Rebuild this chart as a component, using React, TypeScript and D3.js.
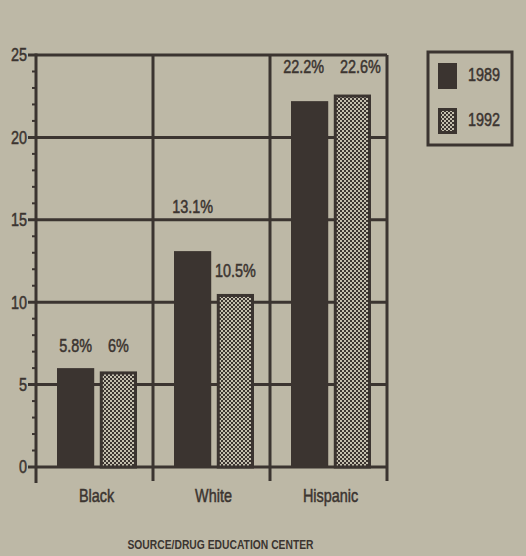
import React from 'react';
import * as d3 from 'd3';

// chart data
const categories = ['Black', 'White', 'Hispanic'];
const series = ['1989', '1992'];
const values1989 = [6.0, 13.1, 22.2];
const values1992 = [5.8, 10.5, 22.6];
const labels1989 = ['5.8%', '13.1%', '22.2%'];
const labels1992 = ['6%', '10.5%', '22.6%'];
// where the value labels sit, in data units
const labelAt1989 = [7.0, 15.4, 23.9];
const labelAt1992 = [7.0, 11.5, 23.9];
const yTicks = [0, 5, 10, 15, 20, 25];
const sourceNote = 'SOURCE/DRUG EDUCATION CENTER';

const W = 526;
const H = 556;
const BG = '#bdb8a6';
const INK = '#3b3430';
const FONT = '"Liberation Sans", Arial, sans-serif';

// condensed text: the scan uses a narrow grotesque, so squeeze Liberation Sans
function Txt({ x, y, anchor = 'start', size = 18, bold = false, squeeze = 0.8, dy, children }:
  { x: number; y: number; anchor?: string; size?: number; bold?: boolean; squeeze?: number; dy?: string; children: React.ReactNode }) {
  return (
    <text transform={`translate(${x},${y}) scale(${squeeze},1)`} textAnchor={anchor} dy={dy}
      fontFamily={FONT} fontSize={size} fontWeight={bold ? 'bold' : 'normal'}
      fill={INK} stroke={INK} strokeWidth={bold ? 0 : 0.5}>{children}</text>
  );
}

export default function App() {
  const margin = { top: 55, left: 36, right: 139, bottom: 89 };
  const x0 = d3.scaleBand().domain(categories).range([margin.left, W - margin.right]).padding(0);
  const x1 = d3.scaleBand().domain(series).range([21, 101]).paddingInner(0.13);
  const y = d3.scaleLinear().domain([0, 25]).range([H - margin.bottom, margin.top]);
  const minor = d3.range(0, 26);

  const rows = categories.map((c, i) => ({
    cat: c,
    bars: [
      { s: '1989', v: values1989[i], label: labels1989[i], at: labelAt1989[i] },
      { s: '1992', v: values1992[i], label: labels1992[i], at: labelAt1992[i] },
    ],
  }));

  const x0Range = x0.range();
  const bw = x0.bandwidth();
  const bottom = y(0);
  // the two top labels crowd each other, so spread them apart a bit
  const spread = (cat: string, s: string) => (cat === 'Hispanic' ? (s === '1989' ? -6 : 8) : 0);

  return (
    <div style={{ position: 'fixed', left: 0, top: 0, width: W, height: H, background: BG }}>
      <svg width={W} height={H} style={{ display: 'block' }}>
        <defs>
          <pattern id="checker" width="4" height="4" patternUnits="userSpaceOnUse">
            <rect width="4" height="4" fill="#c4bfae" />
            <rect width="2" height="2" fill={INK} />
            <rect x="2" y="2" width="2" height="2" fill={INK} />
          </pattern>
        </defs>
        <rect width={W} height={H} fill={BG} />

        {/* horizontal grid */}
        {yTicks.map(t => (
          <line key={'g' + t} x1={x0Range[0] - 8} x2={x0Range[1]} y1={y(t)} y2={y(t)} stroke={INK} strokeWidth={3} />
        ))}
        {/* vertical grid / frame */}
        {categories.map(c => (
          <line key={'v' + c} x1={x0(c)! + bw} x2={x0(c)! + bw} y1={y(25)} y2={bottom + 14} stroke={INK} strokeWidth={3} />
        ))}
        <line x1={x0Range[0]} x2={x0Range[0]} y1={y(25) - 1.5} y2={bottom + 16} stroke={INK} strokeWidth={3} />

        {/* minor ticks */}
        {minor.filter(m => m % 5 !== 0).map(m => (
          <line key={'m' + m} x1={x0Range[0] - 4} x2={x0Range[0]} y1={y(m)} y2={y(m)} stroke={INK} strokeWidth={2} />
        ))}

        {/* y tick labels */}
        {yTicks.map(t => (
          <Txt key={'t' + t} x={x0Range[0] - 9} y={y(t)} dy="0.36em" anchor="end">{t}</Txt>
        ))}

        {/* bars */}
        {rows.map(r => (
          <g key={r.cat} transform={`translate(${x0(r.cat)},0)`}>
            {r.bars.map(b => (
              b.s === '1989' ? (
                <rect key={b.s} x={x1(b.s)} y={y(b.v)} width={x1.bandwidth()} height={bottom - y(b.v)} fill={INK} />
              ) : (
                <rect key={b.s} x={x1(b.s)! + 1.5} y={y(b.v) + 1.5} width={x1.bandwidth() - 3} height={bottom - y(b.v) - 1.5}
                  fill="url(#checker)" stroke={INK} strokeWidth={3} />
              )
            ))}
            {r.bars.map(b => (
              <Txt key={'l' + b.s} x={x1(b.s)! + x1.bandwidth() / 2 + spread(r.cat, b.s)} y={y(b.at)} anchor="middle">{b.label}</Txt>
            ))}
            <Txt x={bw / 2 + 2} y={bottom + 35} anchor="middle">{r.cat}</Txt>
          </g>
        ))}

        {/* legend */}
        <g>
          <rect x={428} y={52} width={84} height={93} fill="none" stroke={INK} strokeWidth={3} />
          {series.map((s, i) => (
            <g key={s} transform={`translate(438,${63 + i * 45})`}>
              {i === 0 ? (
                <rect width={19} height={26} fill={INK} />
              ) : (
                <rect x={1.5} y={1.5} width={16} height={23} fill="url(#checker)" stroke={INK} strokeWidth={3} />
              )}
              <Txt x={30} y={18}>{s}</Txt>
            </g>
          ))}
        </g>

        {/* source */}
        <Txt x={(x0Range[0] + x0Range[1]) / 2 + 9} y={549} anchor="middle" size={12} bold squeeze={0.86}>{sourceNote}</Txt>
      </svg>
    </div>
  );
}
